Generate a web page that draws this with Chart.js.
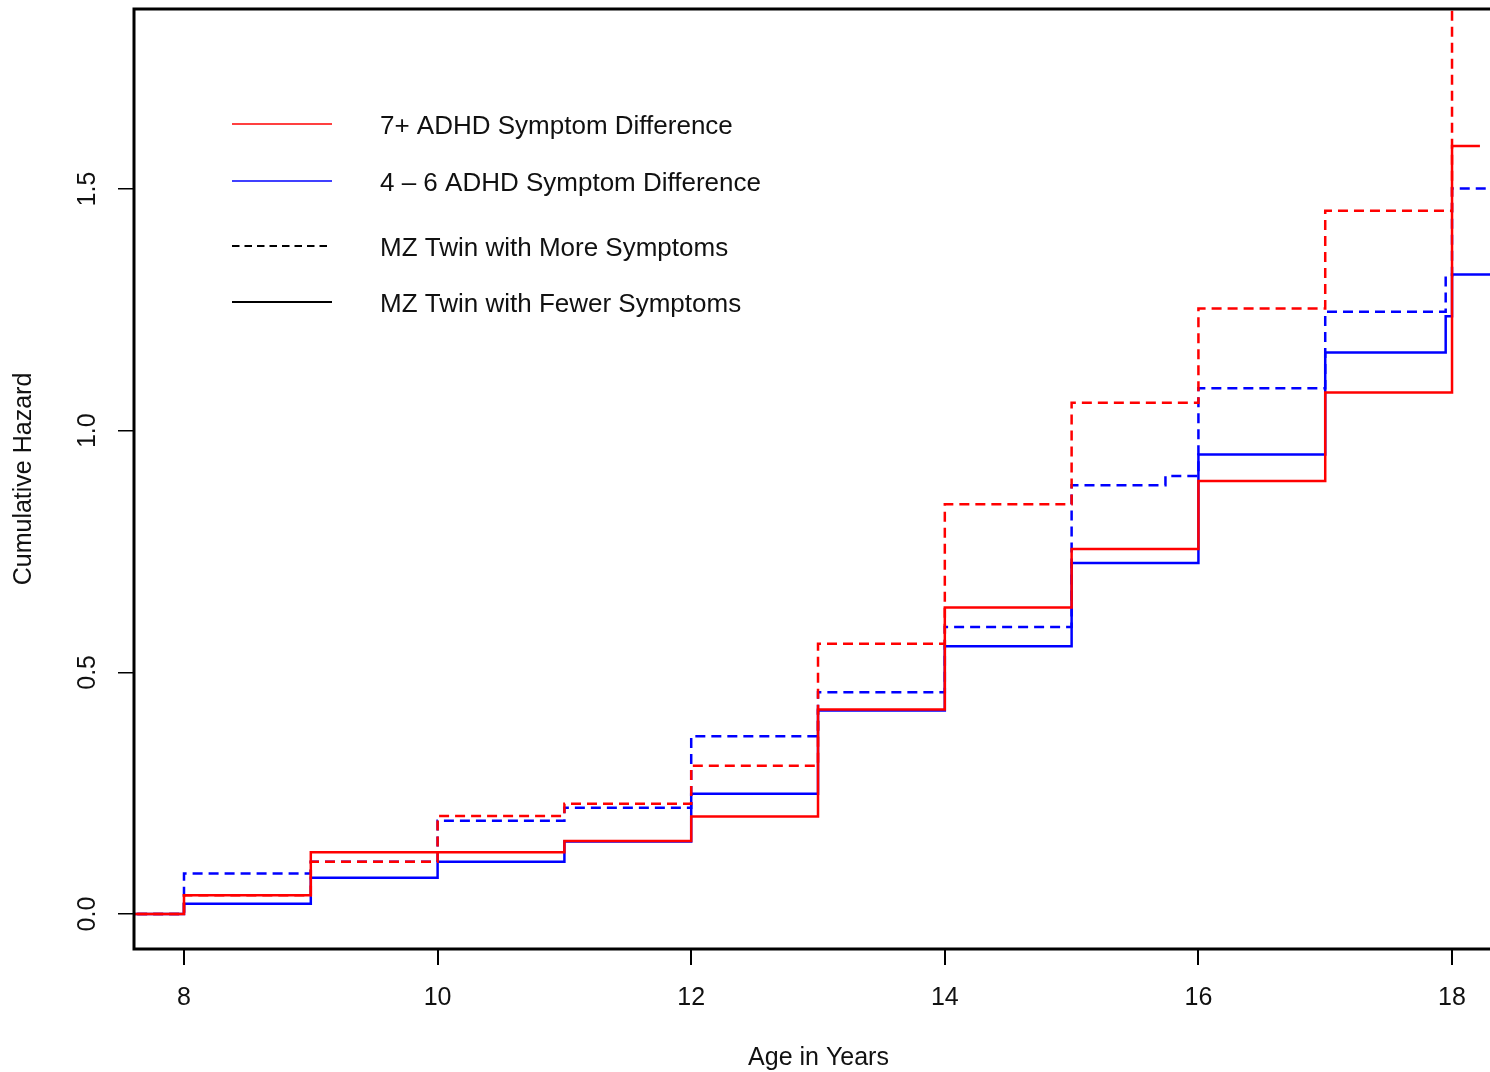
<!DOCTYPE html>
<html><head><meta charset="utf-8">
<script src="https://cdn.jsdelivr.net/npm/chart.js@4/dist/chart.umd.min.js"></script>
<style>html,body{margin:0;padding:0;background:#fff;overflow:hidden;width:1490px;height:1072px}canvas{display:block}</style>
</head><body>
<canvas id="c" width="1505" height="1072" style="width:1505px;height:1072px"></canvas>
<script>
// Tick labels
const xTicks = [8, 10, 12, 14, 16, 18];
const yTicks = [0, 0.5, 1.0, 1.5];

// Step data: age at which each step starts, and cumulative hazard from that age on
const red7MoreAges  = [7, 8, 9, 10, 11, 12, 13, 14, 15, 16, 17, 18, 18.22];
const red7MoreHaz   = [0, 0.039, 0.108, 0.203, 0.228, 0.307, 0.559, 0.848, 1.058, 1.253, 1.455, 2.2, 2.2];
const red7FewerAges = [7, 8, 9, 10, 11, 12, 13, 14, 15, 16, 17, 18, 18.22];
const red7FewerHaz  = [0, 0.039, 0.128, 0.128, 0.151, 0.202, 0.423, 0.634, 0.755, 0.896, 1.079, 1.589, 1.589];
const blue46MoreAges  = [7, 8, 9, 10, 11, 12, 13, 14, 15, 15.74, 16, 17, 17.95, 18, 18.6];
const blue46MoreHaz   = [0, 0.084, 0.108, 0.193, 0.220, 0.368, 0.459, 0.594, 0.887, 0.906, 1.088, 1.246, 1.320, 1.501, 1.501];
const blue46FewerAges = [7, 8, 9, 10, 11, 12, 13, 14, 15, 16, 17, 17.95, 18, 18.6];
const blue46FewerHaz  = [0, 0.021, 0.075, 0.108, 0.150, 0.249, 0.421, 0.554, 0.726, 0.951, 1.162, 1.237, 1.323, 1.323];

// Legend
const legendLabels = ['7+ ADHD Symptom Difference', '4 \u2013 6 ADHD Symptom Difference', 'MZ Twin with More Symptoms', 'MZ Twin with Fewer Symptoms'];
const legendColors = ['#ff0000', '#0000ff', '#000000', '#000000'];
const legendDashed = [false, false, true, false];

const FONT = '"Liberation Sans", Arial, Helvetica, sans-serif';
const toPts = (xs, ys) => xs.map((x, i) => ({x: x, y: ys[i]}));

const DASH = [10, 6];
const datasets = [
  {label: '7+ more', data: toPts(red7MoreAges, red7MoreHaz), borderColor: '#ff0000', borderDash: DASH},
  {label: '7+ fewer', data: toPts(red7FewerAges, red7FewerHaz), borderColor: '#ff0000'},
  {label: '4-6 more', data: toPts(blue46MoreAges, blue46MoreHaz), borderColor: '#0000ff', borderDash: DASH},
  {label: '4-6 fewer', data: toPts(blue46FewerAges, blue46FewerHaz), borderColor: '#0000ff'}
].map(d => Object.assign({stepped: 'before', borderWidth: 2.5, pointRadius: 0, fill: false, tension: 0}, d));

const framePlugin = {
  id: 'frame',
  afterDatasetsDraw(chart) {
    const {ctx, chartArea: a} = chart;
    ctx.save();
    ctx.strokeStyle = '#000';
    ctx.lineWidth = 3;
    ctx.strokeRect(a.left, a.top, a.right - a.left, a.bottom - a.top);
    ctx.restore();
  }
};

const legendPlugin = {
  id: 'rlegend',
  afterDraw(chart) {
    const ctx = chart.ctx;
    const rowY = [124, 181, 246, 302];
    ctx.save();
    ctx.font = '26px ' + FONT;
    ctx.textBaseline = 'middle';
    ctx.textAlign = 'left';
    legendLabels.forEach((lab, i) => {
      ctx.beginPath();
      ctx.strokeStyle = legendColors[i];
      ctx.lineWidth = legendColors[i] === '#000000' ? 2 : 1.5;
      ctx.setLineDash(legendDashed[i] ? [7.5, 5] : []);
      ctx.moveTo(232, rowY[i]);
      ctx.lineTo(332, rowY[i]);
      ctx.stroke();
      ctx.setLineDash([]);
      ctx.fillStyle = '#111';
      ctx.fillText(lab, 380, rowY[i] + 2.5);
    });
    ctx.restore();
  }
};

new Chart(document.getElementById('c'), {
  type: 'line',
  data: {datasets},
  options: {
    responsive: false,
    animation: false,
    events: [],
    layout: {padding: {top: 9, right: 2, left: 0, bottom: 0}},
    plugins: {legend: {display: false}, tooltip: {enabled: false}},
    scales: {
      x: {
        type: 'linear',
        min: 7.6057, max: 18.402,
        afterBuildTicks: s => { s.ticks = xTicks.map(v => ({value: v})); },
        afterFit: s => { s.height = 123; s.paddingLeft = 0; s.paddingRight = 0; },
        grid: {drawOnChartArea: false, drawTicks: true, tickLength: 16, color: '#000', lineWidth: 2},
        border: {display: false},
        ticks: {autoSkip: false, maxRotation: 0, padding: 18, color: '#111', font: {family: FONT, size: 25}, callback: v => String(v)},
        title: {display: true, text: 'Age in Years', color: '#111', font: {family: FONT, size: 25, lineHeight: 1.0}, padding: {top: 0, bottom: 1.5}}
      },
      y: {
        type: 'linear',
        min: -0.0724, max: 1.8725,
        afterBuildTicks: s => { s.ticks = yTicks.map(v => ({value: v})); },
        afterFit: s => { s.width = 134; s.paddingTop = 0; s.paddingBottom = 0; },
        grid: {drawOnChartArea: false, drawTicks: true, tickLength: 16, color: '#000', lineWidth: 1.5},
        border: {display: false},
        ticks: {minRotation: 90, maxRotation: 90, crossAlign: 'center', padding: 13, color: '#111', font: {family: FONT, size: 25}, callback: v => Number(v).toFixed(1)},
        title: {display: true, text: 'Cumulative Hazard', color: '#111', font: {family: FONT, size: 25, lineHeight: 1.0}, padding: {top: 12, bottom: 0}}
      }
    }
  },
  plugins: [framePlugin, legendPlugin]
});
</script>
</body></html>
